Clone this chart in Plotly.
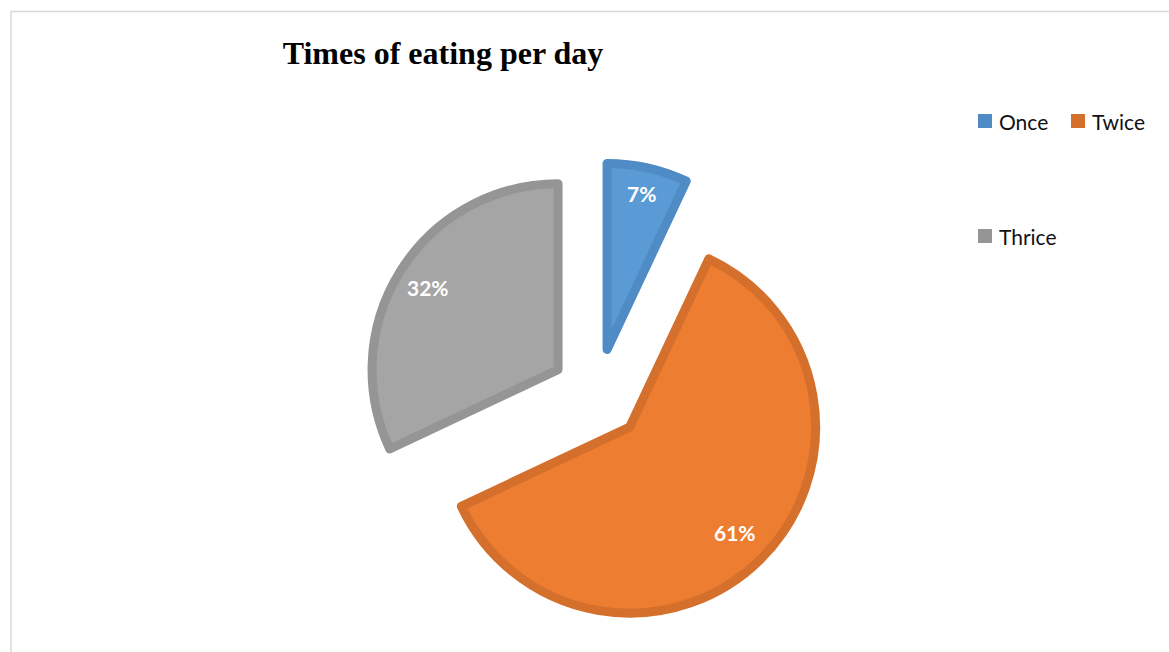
import math
import plotly.graph_objects as go

# ---- data ----
categories = ["Once", "Twice", "Thrice"]
shares = [7, 61, 32]

# ---- styling ----
fill_colors = ["#5b9bd5", "#ed7d31", "#a5a5a5"]
edge_colors = ["#4f8bc4", "#d46f2c", "#959595"]
W, H = 1169, 652

# pie geometry in pixels (centre, radius, explode distance)
CX, CY = 597.0, 394.5
R = 186.0
PULL = 0.248
label_depth = [0.86, 0.80, 0.83]   # radial position of each value label (fraction of R)


def px_x(x):
    return x / W


def px_y(y):
    return 1 - y / H


side = 2 * R * (1 + PULL)
domain_x = [px_x(CX - side / 2), px_x(CX + side / 2)]
domain_y = [px_y(CY + side / 2), px_y(CY - side / 2)]

fig = go.Figure(
    go.Pie(
        labels=categories,
        values=shares,
        sort=False,
        direction="clockwise",
        rotation=0,
        pull=[PULL] * len(shares),
        marker=dict(colors=fill_colors, line=dict(color=edge_colors, width=9)),
        textinfo="none",
        hoverinfo="label+percent",
        showlegend=False,
        domain=dict(x=domain_x, y=domain_y),
    )
)

# value labels placed along each slice's bisector
total = sum(shares)
start = 0.0
for i, v in enumerate(shares):
    frac = v / total
    mid = 2 * math.pi * (start + frac / 2)
    start += frac
    dist = PULL * R + label_depth[i] * R
    lx = CX + dist * math.sin(mid)
    ly = CY - dist * math.cos(mid)
    fig.add_annotation(
        x=px_x(lx), y=px_y(ly), xref="paper", yref="paper",
        text=f"{round(frac * 100)}%", showarrow=False,
        xanchor="center", yanchor="middle",
        font=dict(family="Lato", size=21, color="white", weight="bold"),
    )

# legend: coloured squares with category names
legend_slots = [(978, 121), (1071, 121), (978, 236)]
for (lx, ly), name, col in zip(legend_slots, categories, edge_colors):
    fig.add_shape(
        type="rect", xref="paper", yref="paper",
        x0=px_x(lx), x1=px_x(lx + 14), y0=px_y(ly - 7), y1=px_y(ly + 7),
        fillcolor=col, line=dict(width=0),
    )
    fig.add_annotation(
        x=px_x(lx + 19), y=px_y(ly), xref="paper", yref="paper",
        text=name, showarrow=False, xanchor="left", yanchor="middle",
        font=dict(family="Lato", size=21, color="#111111"),
    )

# chart frame
fig.add_shape(
    type="rect", xref="paper", yref="paper",
    x0=px_x(11), x1=px_x(W + 40), y0=px_y(H + 40), y1=px_y(11.5),
    line=dict(color="#d9d9d9", width=1.5), fillcolor="rgba(0,0,0,0)",
)

fig.update_layout(
    width=W, height=H,
    margin=dict(l=0, r=0, t=0, b=0),
    paper_bgcolor="white",
    plot_bgcolor="white",
    title=dict(
        text="<b>Times of eating per day</b>",
        x=px_x(443), xanchor="center", xref="paper",
        y=px_y(53), yanchor="middle", yref="container",
        font=dict(family="Liberation Serif", size=32, color="black"),
    ),
)

fig.write_html("out.html")
